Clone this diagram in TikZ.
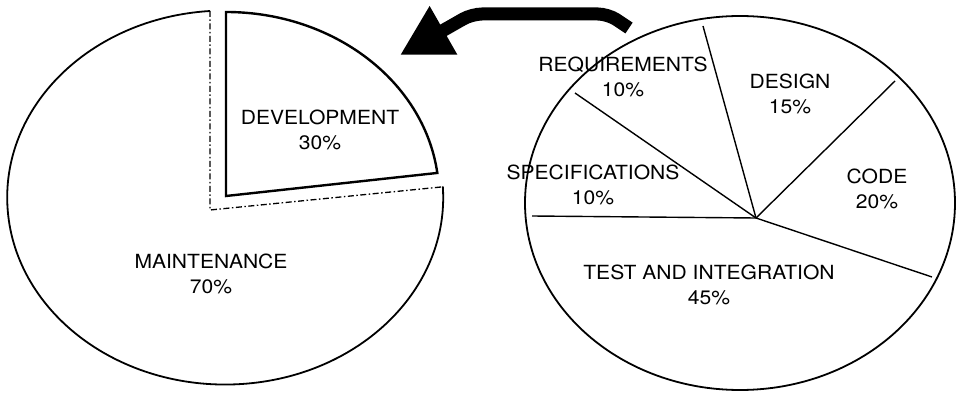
\documentclass[tikz,border=0pt]{standalone}
\usepackage{fontspec}
\setmainfont{TeX Gyre Heros}[FakeStretch=1.08]
\usetikzlibrary{arrows.meta}

\tikzset{
  outline/.style={line width=1.8pt},
  devslice/.style={line width=2.4pt, line join=miter},
  cutline/.style={line width=1.3pt, dash pattern=on 6pt off 2.5pt on 1.5pt off 2.5pt},
  slice/.style={line width=1.4pt},
  pielabel/.style={align=center, inner sep=0pt, font=\fontsize{19.5}{24.5}\selectfont}
}

\begin{document}
\begin{tikzpicture}[x=1pt,y=1pt]
\useasboundingbox (0,0) rectangle (956,394);

% Left pie: maintenance part with cut-out outline
\draw[outline] (210,383) arc[start angle=94, end angle=363.4, x radius=218, y radius=187];
\draw[cutline] (210,383) -- (210,184) -- (441,207);

% Left pie: development slice, pulled out
\draw[devslice] (226,198) -- (226,382)
  arc[start angle=90, end angle=7.2, x radius=213, y radius=184] -- cycle;

\node[pielabel] (dev) at (320,264) {DEVELOPMENT\\30\%};
\node[pielabel] (maint) at (211,120) {MAINTENANCE\\70\%};

% Right pie
\draw[outline] (740,191) ellipse[x radius=215, y radius=187];
\coordinate (hub) at (756,176);
\foreach \p in {(532,178),(575,301),(703,368),(895,313),(932,117)}
  \draw[slice] (hub) -- \p;

\node[pielabel] (req) at (623,317) {REQUIREMENTS\\10\%};
\node[pielabel] (design) at (790,300) {DESIGN\\15\%};
\node[pielabel] (spec) at (593,209) {SPECIFICATIONS\\10\%};
\node[pielabel] (code) at (877,205) {CODE\\20\%};
\node[pielabel] (test) at (709,109) {TEST AND INTEGRATION\\45\%};

% Big arrow from the right pie to the left one
\coordinate (tail) at (629,366);
\coordinate (tip) at (400,339);
\draw[line width=13pt, rounded corners=10pt, -{Triangle[length=50pt,width=52pt]}]
  (tail) -- (608,380) -- (472,380) -- (tip);
\end{tikzpicture}
\end{document}
